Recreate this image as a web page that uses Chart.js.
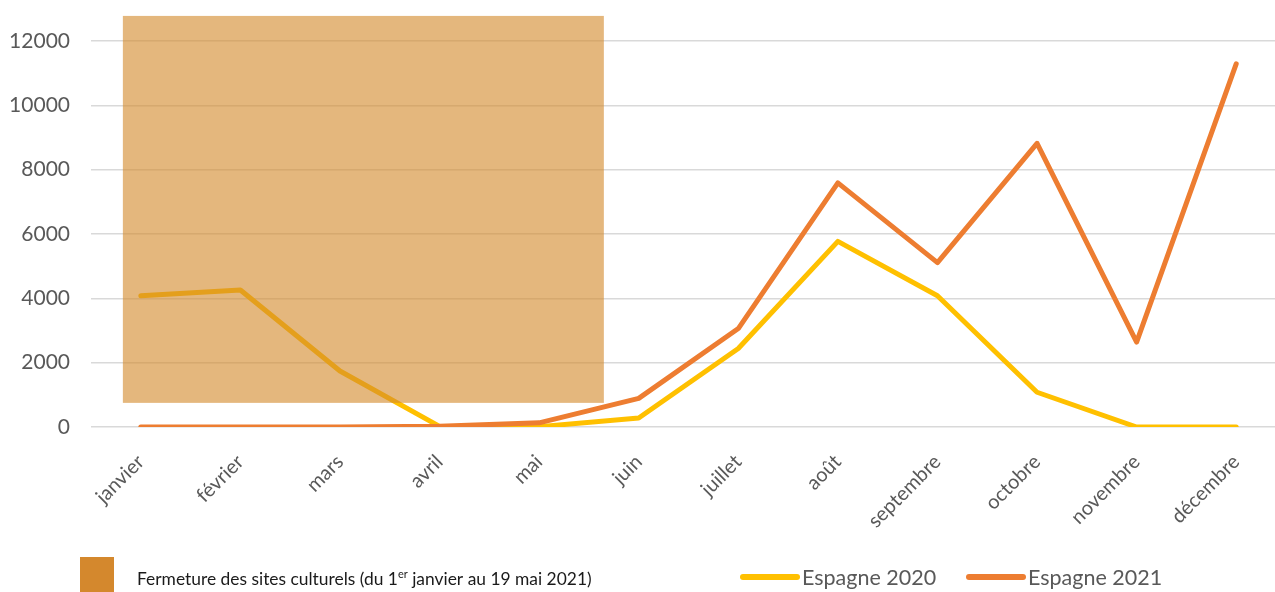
<!DOCTYPE html>
<html>
<head>
<meta charset="utf-8">
<script src="https://cdn.jsdelivr.net/npm/chart.js@4"></script>
<style>
  html, body { margin: 0; padding: 0; background: #fff; overflow: hidden; }
  #wrap { width: 1286px; height: 592px; }
</style>
</head>
<body>
<div id="wrap"><canvas id="c" width="1286" height="592"></canvas></div>
<script>
const MONTHS = ["janvier","février","mars","avril","mai","juin","juillet","août","septembre","octobre","novembre","décembre"];
const ESP_2020 = [4080, 4260, 1740, 20, 10, 280, 2440, 5770, 4080, 1080, 0, 0];
const ESP_2021 = [0, 0, 0, 20, 130, 890, 3060, 7590, 5110, 8820, 2640, 11290];
const Y_TICKS = [0, 2000, 4000, 6000, 8000, 10000, 12000];

// closure period (1 Jan -> 19 May), in category-index / value units
const CLOSURE = { x0: -0.18, x1: 4.65, y0: 750, y1: 12780 };
const CLOSURE_LABEL = ["Fermeture des sites culturels (du 1", "er", " janvier au 19 mai 2021)"];

const FONT = "Lato, 'Noto Sans', sans-serif";
const GREY = "#595959";

// shaded box for the closure, drawn over the lines
const closurePlugin = {
  id: "closure",
  afterDatasetsDraw(chart) {
    const { ctx, scales: { x, y } } = chart;
    const l = x.getPixelForValue(CLOSURE.x0), r = x.getPixelForValue(CLOSURE.x1);
    const t = y.getPixelForValue(CLOSURE.y1), b = y.getPixelForValue(CLOSURE.y0);
    ctx.save();
    ctx.fillStyle = "rgba(212,138,45,0.62)";
    ctx.fillRect(l, t, r - l, b - t);
    ctx.restore();
  },
};

// bottom legend, laid out like the original
const legendPlugin = {
  id: "bottomLegend",
  afterDraw(chart) {
    const ctx = chart.ctx;
    ctx.save();
    ctx.fillStyle = "#d4882d";
    ctx.fillRect(80, 557, 34, 35);

    ctx.fillStyle = "#1a1a1a";
    ctx.textBaseline = "alphabetic";
    ctx.font = "17.4px " + FONT;
    let tx = 137;
    ctx.fillText(CLOSURE_LABEL[0], tx, 585);
    tx += ctx.measureText(CLOSURE_LABEL[0]).width;
    ctx.font = "11px " + FONT;
    ctx.fillText(CLOSURE_LABEL[1], tx, 578);
    tx += ctx.measureText(CLOSURE_LABEL[1]).width;
    ctx.font = "17.4px " + FONT;
    ctx.fillText(CLOSURE_LABEL[2], tx, 585);

    const starts = [743, 969];
    chart.data.datasets.forEach((ds, i) => {
      const x0 = starts[i];
      ctx.strokeStyle = ds.borderColor;
      ctx.lineWidth = 6;
      ctx.lineCap = "round";
      ctx.beginPath();
      ctx.moveTo(x0, 577);
      ctx.lineTo(x0 + 54, 577);
      ctx.stroke();
      ctx.fillStyle = GREY;
      ctx.font = "21.5px " + FONT;
      ctx.fillText(ds.label, x0 + 59, 585);
    });
    ctx.restore();
  },
};

new Chart(document.getElementById("c"), {
  type: "line",
  data: {
    labels: MONTHS,
    datasets: [
      { label: "Espagne 2020", data: ESP_2020, borderColor: "#ffc000", order: 1 },
      { label: "Espagne 2021", data: ESP_2021, borderColor: "#ed7d31", order: 0 },
    ],
  },
  options: {
    responsive: false,
    animation: false,
    layout: { padding: { top: 41, left: 0, right: 0, bottom: 0 } },
    elements: {
      line: { borderWidth: 5, tension: 0, borderCapStyle: "round", borderJoinStyle: "round" },
      point: { radius: 0, hoverRadius: 0 },
    },
    plugins: { legend: { display: false }, tooltip: { enabled: false } },
    scales: {
      x: {
        offset: true,
        grid: { display: false },
        border: { display: false },
        ticks: {
          color: GREY, font: { family: FONT, size: 20 },
          minRotation: 45, maxRotation: 45, padding: 15, autoSkip: false,
        },
        afterFit: (s) => { s.height = 165; },
      },
      y: {
        min: 0, max: 12000,
        afterBuildTicks: (s) => { s.ticks = Y_TICKS.map((v) => ({ value: v })); },
        grid: { color: "#d9d9d9", lineWidth: 1.5, drawTicks: false },
        border: { display: false },
        ticks: { color: GREY, font: { family: FONT, size: 21 }, padding: 21, callback: (v) => String(v) },
        afterFit: (s) => { s.width = 91; },
      },
    },
  },
  plugins: [closurePlugin, legendPlugin],
});
</script>
</body>
</html>
